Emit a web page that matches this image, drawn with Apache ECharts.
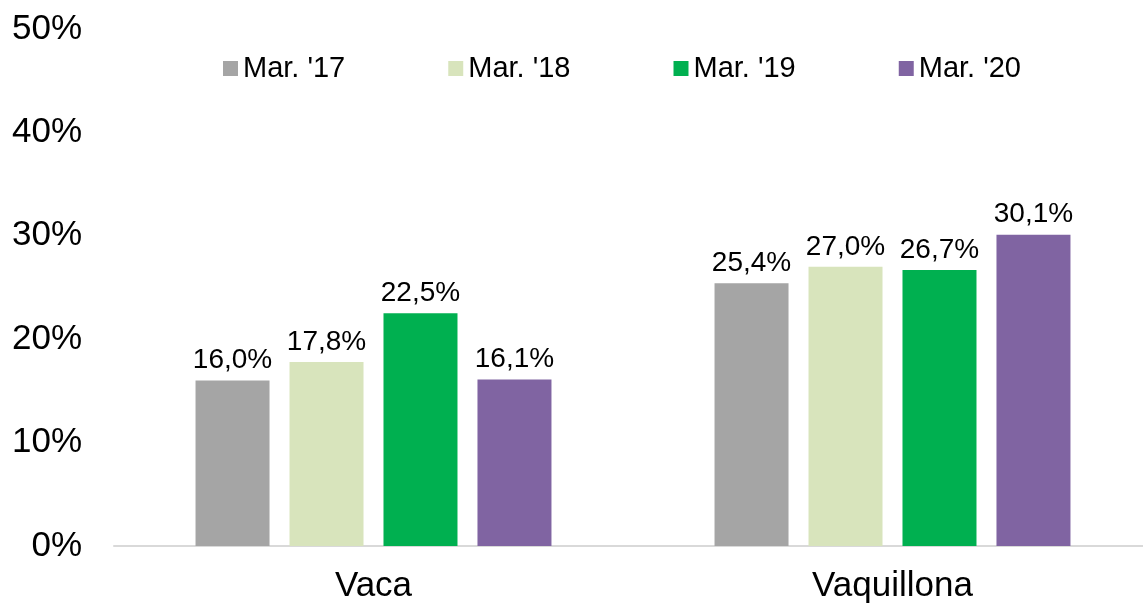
<meta charset="utf-8" />
<style>
html, body { margin: 0; padding: 0; background: #fff; overflow: hidden; }
#chart { width: 1160px; height: 604px; }
</style>
<script src="https://cdn.jsdelivr.net/npm/echarts@6.0.0/dist/echarts.min.js"></script>
<div id="chart"></div>
<script>
const categories = ['Vaca', 'Vaquillona'];
const seriesNames = ["Mar. '17", "Mar. '18", "Mar. '19", "Mar. '20"];
const mar17 = [16.0, 25.4];
const mar18 = [17.8, 27.0];
const mar19 = [22.5, 26.7];
const mar20 = [16.1, 30.1];
const colors = ['#a5a5a5', '#d8e4bc', '#00b050', '#8064a2'];

const font = '"Liberation Sans", Arial, sans-serif';
const fmt = v => v.toFixed(1).replace('.', ',') + '%';

const chart = echarts.init(document.getElementById('chart'), null, { renderer: 'canvas' });
chart.setOption({
  animation: false,
  textStyle: { fontFamily: font },
  grid: { left: 114, width: 1038, top: 29, bottom: 58, containLabel: false },
  legend: {
    left: 218,
    top: 49,
    itemWidth: 15,
    itemHeight: 15,
    itemGap: 103,
    icon: 'rect',
    textStyle: { fontSize: 29, color: '#000', fontFamily: font },
    data: seriesNames
  },
  xAxis: {
    type: 'category',
    data: categories,
    axisLine: { show: true, lineStyle: { color: '#d9d9d9', width: 2 } },
    axisTick: { show: false },
    axisLabel: { fontSize: 35, color: '#000', margin: 23, fontFamily: font }
  },
  yAxis: {
    type: 'value',
    min: 0,
    max: 50,
    interval: 10,
    axisLine: { show: false },
    axisTick: { show: false },
    splitLine: { show: false },
    axisLabel: {
      fontSize: 35, color: '#000', margin: 32, padding: [10, 0, 0, 0],
      formatter: '{value}%', fontFamily: font
    }
  },
  series: [mar17, mar18, mar19, mar20].map((data, i) => ({
    name: seriesNames[i],
    type: 'bar',
    data,
    barWidth: 74,
    barGap: '27%',
    itemStyle: { color: colors[i] },
    label: {
      show: true,
      position: 'top',
      distance: 6,
      fontSize: 28,
      color: '#000',
      fontFamily: font,
      formatter: p => fmt(p.value)
    }
  }))
});
</script>
